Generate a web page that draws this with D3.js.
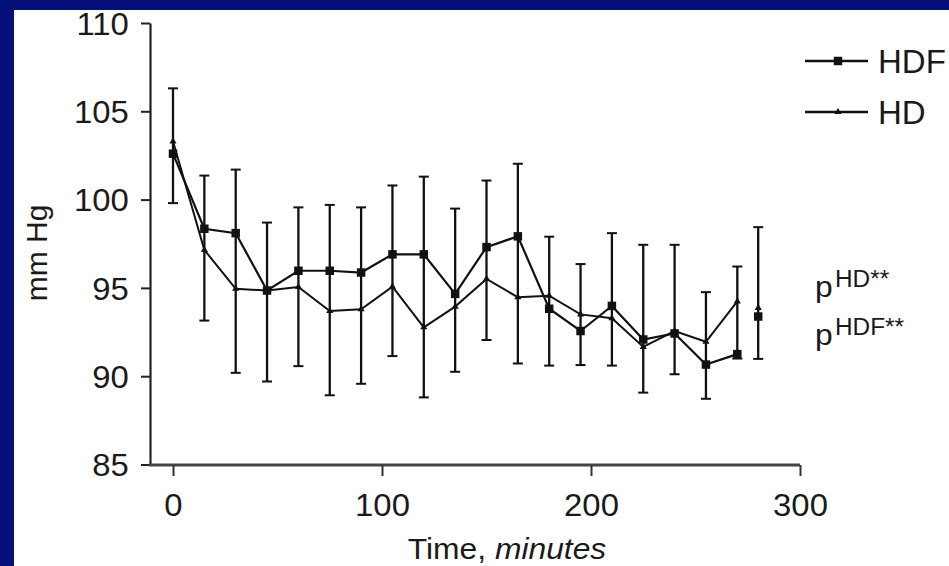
<!DOCTYPE html>
<html><head><meta charset="utf-8">
<script src="https://cdn.jsdelivr.net/npm/d3@7"></script>
<style>html,body{margin:0;padding:0;background:#fff;} svg{display:block;}</style>
</head><body><svg id="c" width="949" height="566"></svg>
<script>
// ---- data ----
const times     = [0, 15, 30, 45, 60, 75, 90, 105, 120, 135, 150, 165, 180, 195, 210, 225, 240, 255, 270];
const hdfValues = [102.6, 98.35, 98.1, 94.85, 95.97, 95.97, 95.87, 96.9, 96.9, 94.66, 97.31, 97.92, 93.82, 92.56, 93.98, 92.08, 92.42, 90.66, 91.25];
const hdValues  = [103.3, 97.15, 94.95, 94.85, 95.05, 93.69, 93.79, 95.07, 92.77, 93.94, 95.51, 94.47, 94.56, 93.5, 93.28, 91.66, 92.56, 91.95, 94.24];
const errHigh   = [106.3, 101.36, 101.7, 98.7, 99.56, 99.7, 99.56, 100.8, 101.3, 99.49, 101.08, 102.03, 97.9, 96.35, 98.1, 97.44, 97.44, 94.76, 96.21];
const errLow    = [99.8, 93.15, 90.19, 89.7, 90.57, 88.92, 89.57, 91.14, 88.8, 90.25, 92.05, 90.72, 90.6, 90.63, 90.6, 89.07, 90.11, 88.72, 91.0];
const postTime    = [280];
const postHDF     = [93.38];
const postHD      = [93.87];
const postErrHigh = [98.44];
const postErrLow  = [90.98];
const yTicks = [85, 90, 95, 100, 105, 110];
const xTicks = [0, 100, 200, 300];
const seriesNames = ["HDF", "HD"];

// ---- drawing ----
const W = 949, H = 566;
const NAVY = "#040f78";
const FONT = "'Liberation Sans', Arial, Helvetica, sans-serif";
const SX = 1.06; // horizontal stretch of the reference's text
const svg = d3.select("#c");
svg.append("rect").attr("width", W).attr("height", H).attr("fill", "#fff");

const x = d3.scaleLinear().domain([0, 300]).range([173, 800]);
const y = d3.scaleLinear().domain([85, 110]).range([464.5, 23]);
const axisX = 150, axisY = 465;

// error bars
const eb = svg.append("g").attr("stroke", "#111").attr("stroke-width", 2.3);
const ebData = times.map((t, i) => ({t, hi: errHigh[i], lo: errLow[i]}))
  .concat(postTime.map((t, i) => ({t, hi: postErrHigh[i], lo: postErrLow[i]})));
ebData.forEach(d => {
  eb.append("line").attr("x1", x(d.t)).attr("x2", x(d.t)).attr("y1", y(d.hi)).attr("y2", y(d.lo));
  [d.hi, d.lo].forEach(v => eb.append("line").attr("x1", x(d.t) - 5).attr("x2", x(d.t) + 5)
    .attr("y1", y(v)).attr("y2", y(v)).attr("stroke-width", 2));
});

// lines
const line = d3.line().x(d => x(d[0])).y(d => y(d[1]));
const hdfPts = times.map((t, i) => [t, hdfValues[i]]);
const hdPts = times.map((t, i) => [t, hdValues[i]]);
svg.append("path").attr("d", line(hdPts)).attr("fill", "none").attr("stroke", "#111").attr("stroke-width", 2);
svg.append("path").attr("d", line(hdfPts)).attr("fill", "none").attr("stroke", "#111").attr("stroke-width", 2.2);

// markers
const sq = d3.symbol().type(d3.symbolSquare).size(72);
const tri = d3.symbol().type(d3.symbolTriangle).size(22);
hdPts.concat(postTime.map((t, i) => [t, postHD[i]])).forEach(p =>
  svg.append("path").attr("d", tri()).attr("transform", `translate(${x(p[0])},${y(p[1])})`).attr("fill", "#111"));
hdfPts.concat(postTime.map((t, i) => [t, postHDF[i]])).forEach(p =>
  svg.append("path").attr("d", sq()).attr("transform", `translate(${x(p[0])},${y(p[1])})`).attr("fill", "#111"));

// y axis
const gy = svg.append("g").attr("transform", `translate(${axisX},0)`)
  .call(d3.axisLeft(y).tickValues(yTicks).tickSize(9).tickSizeOuter(0).tickFormat(d3.format("d")));
gy.select(".domain").attr("stroke", "#222").attr("stroke-width", 2.2);
gy.selectAll(".tick line").attr("stroke", "#222").attr("stroke-width", 2);
gy.selectAll(".tick text").attr("font-family", FONT).attr("font-size", 31).attr("fill", "#1a1a1a")
  .attr("x", -20).attr("dy", "0.36em").attr("transform", `scale(${SX},1)`);

// x axis
svg.append("line").attr("x1", axisX - 1).attr("x2", x(300)).attr("y1", axisY).attr("y2", axisY)
  .attr("stroke", "#444").attr("stroke-width", 3);
const gx = svg.append("g").attr("transform", `translate(0,${axisY})`)
  .call(d3.axisBottom(x).tickValues(xTicks).tickSize(11).tickSizeOuter(0));
gx.select(".domain").remove();
gx.selectAll(".tick line").attr("stroke", "#333").attr("stroke-width", 2);
gx.selectAll(".tick text").attr("font-family", FONT).attr("font-size", 31).attr("fill", "#1a1a1a")
  .attr("y", 51).attr("dy", 0).attr("transform", `scale(${SX},1)`).attr("x", 0);

// axis titles
const xt = svg.append("text").attr("font-family", FONT).attr("font-size", 30).attr("fill", "#1a1a1a")
  .attr("text-anchor", "middle").attr("transform", `translate(507,559) scale(${SX},1)`);
xt.append("tspan").text("Time, ");
xt.append("tspan").attr("font-style", "italic").text("minutes");
svg.append("text").attr("font-family", FONT).attr("font-size", 30).attr("fill", "#1a1a1a")
  .attr("text-anchor", "middle").attr("transform", `translate(47,253) rotate(-90)`).text("mm Hg");

// legend
const legY = [61, 112];
const legMarks = [sq, tri];
seriesNames.forEach((name, i) => {
  svg.append("line").attr("x1", 805).attr("x2", 868).attr("y1", legY[i]).attr("y2", legY[i])
    .attr("stroke", "#111").attr("stroke-width", 2.4);
  svg.append("path").attr("d", legMarks[i]()).attr("transform", `translate(838,${legY[i]})`).attr("fill", "#111");
  svg.append("text").attr("font-family", FONT).attr("font-size", 33).attr("fill", "#1a1a1a")
    .attr("transform", `translate(878,${legY[i] + 12})`).text(name);
});

// significance annotations
const ann = [{sup: "HD**", base: 297, supBase: 286.5}, {sup: "HDF**", base: 344.5, supBase: 335}];
ann.forEach(a => {
  svg.append("text").attr("font-family", FONT).attr("font-size", 30).attr("fill", "#1a1a1a")
    .attr("transform", `translate(815,${a.base}) scale(${SX},1)`).text("p");
  svg.append("text").attr("font-family", FONT).attr("font-size", 23).attr("fill", "#1a1a1a")
    .attr("transform", `translate(835,${a.supBase}) scale(${SX},1)`).text(a.sup);
});

// navy frame (top and left)
svg.append("rect").attr("x", 0).attr("y", 0).attr("width", W).attr("height", 10).attr("fill", NAVY);
svg.append("rect").attr("x", 0).attr("y", 0).attr("width", 14).attr("height", H).attr("fill", NAVY);
</script></body></html>
